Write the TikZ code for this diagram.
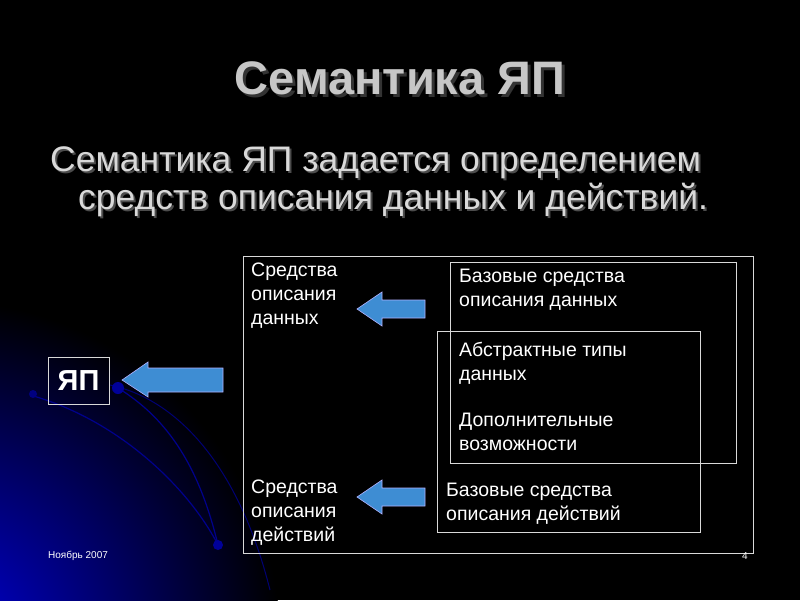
\documentclass[tikz,border=0pt]{standalone}
\usepackage{fontspec}
\setmainfont{Liberation Sans}
\begin{document}
\begin{tikzpicture}[x=1pt,y=-1pt,
  bx/.style={draw=white!85!black,line width=0.8pt},
  txt/.style={text=white,font=\fontsize{19.5}{24}\selectfont,align=left,anchor=north west,inner sep=0pt},
  barrow/.style={fill=cyan!60!blue!80!white,draw=white!70!blue,line width=0.6pt}]
\useasboundingbox (0,0) rectangle (800,600);
\fill[black] (0,0) rectangle (800,600);
\begin{scope}
\clip (0,0) rectangle (800,600);
\shade[inner color=blue!85!black,outer color=black] (-60,640) circle (340);
\draw[blue!55!black,line width=1.2pt] (30,395) .. controls (120,420) and (190,490) .. (218,545);
\draw[blue!55!black,line width=1.2pt] (118,388) .. controls (170,420) and (200,470) .. (218,545);
\draw[blue!45!black,line width=1pt] (110,385) .. controls (180,400) and (240,470) .. (270,590);
\fill[blue!60!black] (218,545) circle (5);
\fill[blue!60!black] (118,388) circle (6);
\fill[blue!50!black] (33,394) circle (4);
\end{scope}
% title
\node[text=black!80,font=\bfseries\fontsize{47}{54}\selectfont] at (403,81) {Семантика ЯП};
\node (title) [text=white!78!black,font=\bfseries\fontsize{47}{54}\selectfont] at (400,78) {Семантика ЯП};
\node (sub1) [text=black!70,font=\fontsize{35.5}{40}\selectfont,anchor=west,inner sep=0pt] at (52,165) {Семантика ЯП задается определением};
\node (sub1b) [text=white!85!black,font=\fontsize{35.5}{40}\selectfont,anchor=west,inner sep=0pt] at (50,163) {Семантика ЯП задается определением};
\node (sub2) [text=black!70,font=\fontsize{35.5}{40}\selectfont,anchor=west,inner sep=0pt] at (80,202) {средств описания данных и действий.};
\node (sub2b) [text=white!85!black,font=\fontsize{35.5}{40}\selectfont,anchor=west,inner sep=0pt] at (78,200) {средств описания данных и действий.};
% boxes
\draw[bx] (243,256) rectangle (753,553);
\draw[bx] (450,262) rectangle (736,463);
\draw[bx] (437,331) rectangle (700,532);
\node (yp) [bx,text=white,font=\bfseries\fontsize{29}{32}\selectfont,minimum width=61,minimum height=47,inner sep=0pt] at (78.5,380.5) {ЯП};
\node (t1) [txt] at (251,263) {Средства\\описания\\данных};
\node (t2) [txt] at (251,480) {Средства\\описания\\действий};
\node (t3) [txt] at (459,269) {Базовые средства\\описания данных};
\node (t4) [txt] at (459,342) {Абстрактные типы\\данных};
\node (t5) [txt] at (459,413) {Дополнительные\\возможности};
\node (t6) [txt] at (446,483) {Базовые средства\\описания действий};
\node (d) [text=white,font=\fontsize{10}{12}\selectfont,anchor=west,inner sep=0pt] at (48,556) {Ноябрь 2007};
\node (pg) [text=white,font=\fontsize{10}{12}\selectfont] at (745,556) {4};
% arrows
\draw[barrow] (223,368) -- (148,368) -- (148,362) -- (122,380) -- (148,397) -- (148,392) -- (223,392) -- cycle;
\draw[barrow] (425,300) -- (382,300) -- (382,292) -- (357,309) -- (382,326) -- (382,318) -- (425,318) -- cycle;
\draw[barrow] (425,488) -- (382,488) -- (382,480) -- (357,497) -- (382,514) -- (382,506) -- (425,506) -- cycle;
\end{tikzpicture}
\end{document}
